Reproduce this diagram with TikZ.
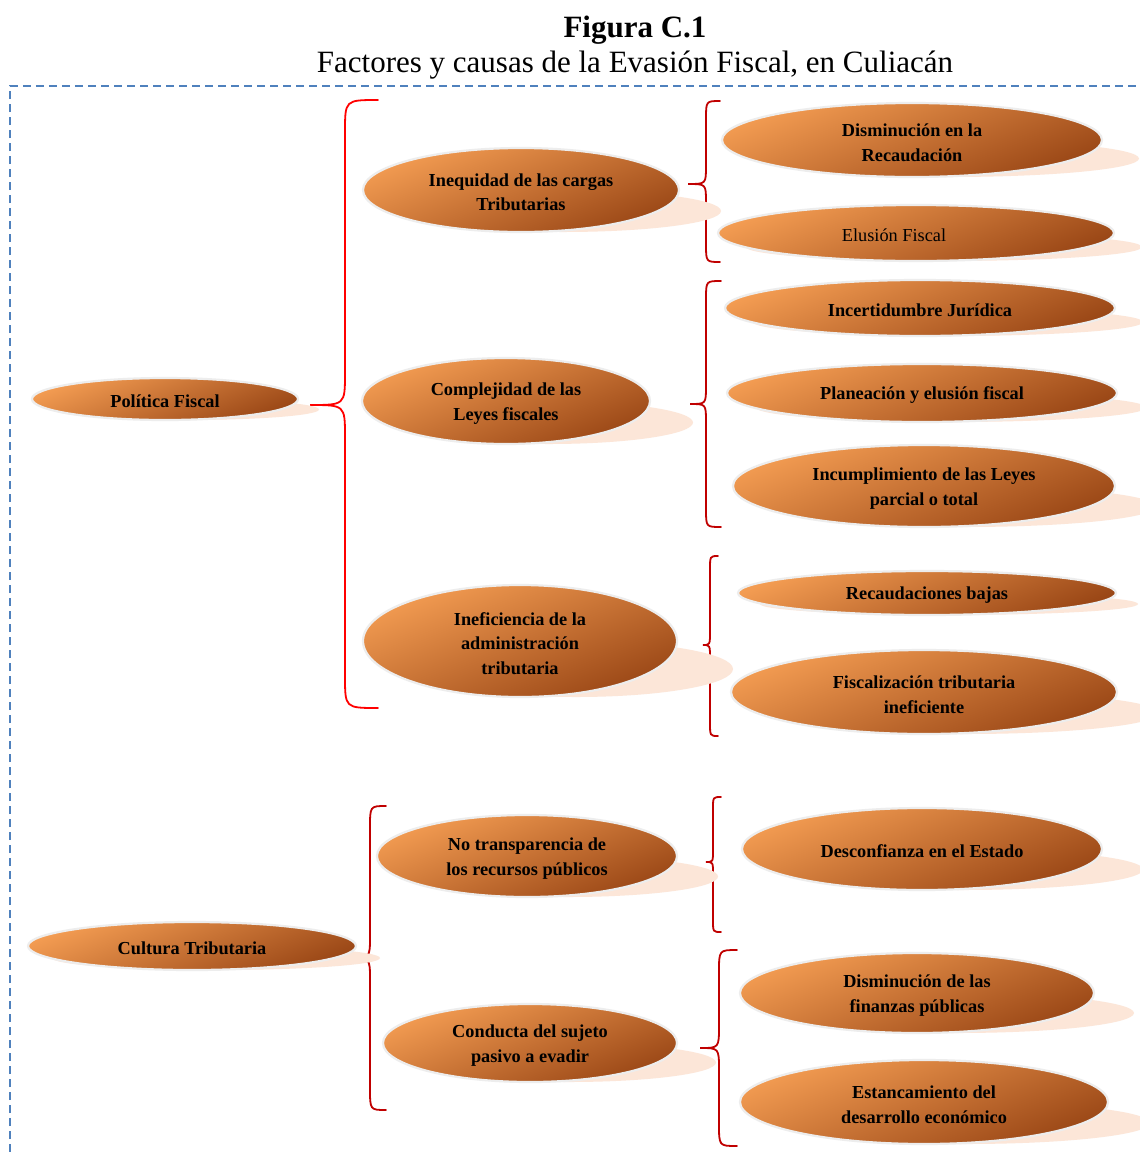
\documentclass[tikz,border=0pt]{standalone}
\usepackage{fontspec}
\setmainfont{Liberation Serif}
\usetikzlibrary{shapes.geometric}
\definecolor{orL}{HTML}{F39C52}
\definecolor{orD}{HTML}{9A4716}
\definecolor{peach}{HTML}{FCE6D8}
\definecolor{frameblue}{HTML}{4F81BD}
\definecolor{brR}{HTML}{FF0000}
\definecolor{brD}{HTML}{C00000}
\tikzset{
  oval/.style={ellipse, inner sep=0pt, draw=white!93!black, line width=2.2pt,
    top color=orL, bottom color=orD, shading angle=22},
  ovtext/.style={align=center, inner sep=0pt,
    font=\fontsize{18.3}{24.5}\selectfont\bfseries},
  regtext/.style={font=\fontsize{18.3}{24.5}\selectfont\mdseries},
  brace/.style={line width=1.8pt, line cap=round}
}
% \ov{name}{cx}{cy}{rx}{ry}{text}{extra text style}{text dx}
\newcommand\ov[8]{%
  \fill[peach] ({#2+#5},{#3+0.5*#5}) ellipse [x radius=#4, y radius={0.5*#5}];
  \node[oval, minimum width={2*#4}, minimum height={2*#5}] (#1) at (#2,#3) {};
  \node[ovtext, #7] (#1-t) at ([xshift=#8pt, yshift=-2.5pt]#1.center) {#6};
}
% \mybr{color}{xv}{xe}{ytop}{ybot}{xtip}{ytip}{r}
\newcommand\mybr[8]{%
  \draw[brace, #1] (#3,#4) .. controls (#2,#4) .. (#2,{#4+#8})
    -- (#2,{#7-#8}) .. controls (#2,#7) .. (#6,#7)
    .. controls (#2,#7) .. (#2,{#7+#8})
    -- (#2,{#5-#8}) .. controls (#2,#5) .. (#3,#5);
}
\begin{document}
\begin{tikzpicture}[x=1pt,y=-1pt]
\clip (0,0) rectangle (1140,1152);
\fill[white] (0,0) rectangle (1140,1152);
\node[font=\fontsize{31}{36}\selectfont\bfseries] (title) at (635,30) {Figura C.1};
\node[font=\fontsize{31}{36}\selectfont] (subtitle) at (635,65) {Factores y causas de la Evasión Fiscal, en Culiacán};
\draw[frameblue, line width=2.2pt, dash pattern=on 8pt off 5pt] (10,1152) -- (10,86) -- (1140,86);

% braces
\mybr{brR}{345}{378}{100}{708}{310}{405}{32}
\mybr{brD}{706}{720}{101}{262}{688}{184}{18}
\mybr{brD}{706}{721}{281}{527}{690}{404}{18}
\mybr{brD}{710}{718}{556}{736}{703}{645}{14}
\mybr{brD}{370}{386}{806}{1110}{350}{958}{22}
\mybr{brD}{713}{721}{797}{932}{706}{862}{12}
\mybr{brD}{719}{737}{950}{1146}{700}{1048}{22}

% level 1
\ov{pf}{165}{399}{133}{21}{Política Fiscal}{}{0}
\ov{ct}{192}{946}{164}{24}{Cultura Tributaria}{}{0}
% level 2
\ov{ineq}{521}{190}{158}{42}{Inequidad de las cargas\\Tributarias}{}{0}
\ov{comp}{506}{401}{144}{43}{Complejidad de las\\Leyes fiscales}{}{0}
\ov{inef}{520}{641}{157}{56}{Ineficiencia de la\\administración\\tributaria}{}{0}
\ov{notr}{527}{856}{150}{41}{No transparencia de\\los recursos públicos}{}{0}
\ov{cond}{530}{1043}{147}{39}{Conducta del sujeto\\pasivo a evadir}{}{0}
% level 3
\ov{dism}{912}{140}{190}{37}{Disminución en la\\Recaudación}{}{0}
\ov{elus}{916}{233}{198}{28}{Elusión Fiscal}{regtext}{-22}
\ov{ince}{920}{308}{195}{28}{Incertidumbre Jurídica}{}{0}
\ov{plan}{922}{393}{195}{29}{Planeación y elusión fiscal}{}{0}
\ov{incu}{924}{486}{191}{41}{Incumplimiento de las Leyes\\parcial o total}{}{0}
\ov{reca}{927}{593}{189}{22}{Recaudaciones bajas}{}{0}
\ov{fisc}{924}{692}{193}{42}{Fiscalización tributaria\\ineficiente}{}{0}
\ov{desc}{922}{849}{180}{41}{Desconfianza en el Estado}{}{0}
\ov{dfin}{917}{993}{177}{40}{Disminución de las\\finanzas públicas}{}{0}
\ov{esta}{924}{1102}{184}{42}{Estancamiento del\\desarrollo económico}{}{0}
\end{tikzpicture}
\end{document}
